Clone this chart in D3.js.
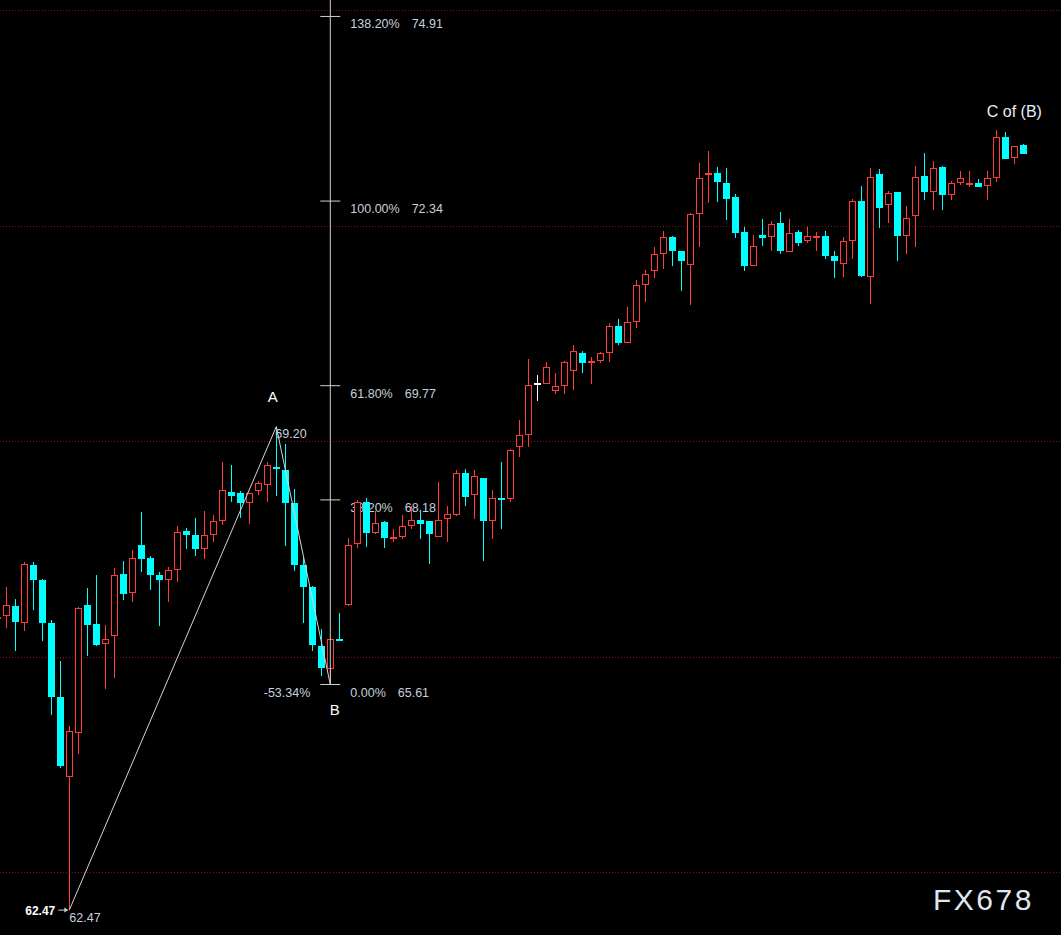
<!DOCTYPE html>
<html><head><meta charset="utf-8">
<script src="https://cdn.jsdelivr.net/npm/d3@7"></script>
<style>html,body{margin:0;padding:0;background:#000;overflow:hidden}</style>
</head><body><svg id="c" width="1061" height="935"></svg>
<script>
// ---- data ----
const candleIndex = d3.range(-1, 114);
const open  = [66.52,66.56,66.70,66.47,67.27,67.07,66.47,65.43,64.32,64.93,66.72,66.45,66.17,66.28,67.15,66.88,67.55,67.37,67.13,67.06,67.20,67.75,67.69,67.50,67.69,67.88,68.29,68.28,68.13,68.31,68.39,68.64,68.60,68.14,67.27,66.97,66.15,65.83,66.25,66.71,67.56,68.15,67.72,67.87,67.65,67.66,67.81,67.90,67.89,67.67,67.91,67.97,68.56,68.25,68.48,67.88,68.20,68.19,68.91,69.09,69.81,69.80,69.69,69.76,69.98,70.23,70.10,70.11,70.22,70.60,70.37,70.65,71.17,71.36,71.61,71.84,71.65,71.45,72.16,72.70,72.73,72.59,72.40,71.91,71.43,71.87,71.84,72.03,71.63,71.91,71.79,71.84,71.85,71.58,71.47,71.79,72.34,71.29,72.72,72.28,72.47,71.86,72.13,72.69,72.46,72.81,72.43,72.59,72.56,72.59,72.55,72.66,73.23,72.94,73.12];
const high  = [66.60,66.97,66.80,67.32,67.32,67.08,66.51,65.94,65.03,66.69,66.95,67.13,66.44,67.23,67.33,67.48,68.01,67.40,67.18,67.24,67.82,67.79,67.93,68.03,67.97,68.71,68.67,68.30,68.28,68.44,68.71,69.20,68.96,68.33,67.37,66.98,66.38,66.26,66.61,67.65,68.18,68.21,68.03,67.89,67.77,67.97,68.09,68.04,67.89,68.43,68.10,68.60,68.61,68.60,68.49,68.32,68.71,68.89,69.29,70.14,69.92,70.10,69.95,70.11,70.34,70.25,70.17,70.24,70.64,70.70,70.86,71.24,71.38,71.70,71.92,71.85,71.65,72.17,72.87,73.04,72.81,72.80,72.44,71.98,71.87,72.09,72.06,72.19,72.09,71.94,71.98,71.91,71.92,71.65,71.84,72.37,72.55,72.80,72.79,72.48,72.47,72.27,72.83,73.01,72.90,72.83,72.62,72.76,72.76,72.65,72.76,73.33,73.30,73.10,73.14];
const low   = [66.45,66.39,66.07,66.35,66.65,66.22,65.18,64.45,62.47,64.64,66.01,66.15,65.55,65.70,66.78,66.76,67.18,66.93,66.43,66.76,67.04,67.50,67.40,67.36,67.60,67.83,68.15,67.93,67.85,68.25,68.15,68.24,67.54,67.19,66.46,66.07,65.73,65.61,66.21,66.70,67.51,67.53,67.70,67.51,67.60,67.64,67.77,67.63,67.29,67.66,67.60,67.95,68.10,67.92,67.33,67.63,67.77,68.15,68.78,68.92,69.56,69.80,69.66,69.66,69.71,69.94,69.80,70.08,70.10,70.34,70.37,70.58,70.93,71.27,71.40,71.43,71.09,70.90,71.70,72.32,72.33,72.08,71.82,71.36,71.43,71.71,71.64,71.61,71.63,71.72,71.76,71.65,71.54,71.27,71.29,71.54,71.29,70.91,71.96,72.04,71.50,71.61,71.70,72.35,72.21,72.22,72.36,72.57,72.53,72.53,72.36,72.60,72.92,72.85,72.99];
const close = [66.55,66.71,66.48,67.29,67.06,66.47,65.43,64.48,64.96,66.67,66.44,66.16,66.25,67.13,66.87,67.37,67.36,67.14,67.07,67.20,67.74,67.69,67.50,67.69,67.89,68.32,68.23,68.14,68.27,68.41,68.66,68.61,68.14,67.28,66.97,66.16,65.84,66.25,66.21,67.55,68.15,67.72,67.86,67.65,67.67,67.81,67.90,67.85,67.70,67.90,67.98,68.56,68.22,68.51,67.88,68.20,68.19,68.87,69.08,69.78,69.81,70.03,69.76,70.10,70.25,70.09,70.12,70.22,70.60,70.37,70.65,71.17,71.33,71.60,71.84,71.64,71.50,72.16,72.66,72.73,72.60,72.37,71.90,71.44,71.72,71.83,72.02,71.64,71.89,71.76,71.85,71.86,71.57,71.50,71.79,72.34,71.30,72.68,72.25,72.45,71.86,72.11,72.68,72.46,72.80,72.43,72.59,72.66,72.59,72.54,72.66,73.23,72.93,73.10,73.00];

const gridPrices = [63, 66, 69, 72, 75];
const fibPct   = ["138.20%", "100.00%", "61.80%", "38.20%", "0.00%"];
const fibPrice = [74.91, 72.34, 69.77, 68.18, 65.61];
const waveIdx   = [7, 30, 36];
const wavePrice = [62.47, 69.20, 65.61];
const waveNames = ["", "A", "B"];
const extLabel = "-53.34%";
const peakLabel = "C of (B)";
const peakIdx = 110;

// ---- scales ----
const W = 1061, H = 935;
const svg = d3.select("#c");
const x = d3.scaleLinear().domain([-1, 113]).range([-2.7, 1023.3]);
const y = d3.scaleLinear().domain([63, 75]).range([872, 10]);

svg.append("rect").attr("width", W).attr("height", H).attr("fill", "#000");

// grid
svg.append("g").attr("shape-rendering", "crispEdges").selectAll("line").data(gridPrices).join("line")
  .attr("x1", 0).attr("x2", W)
  .attr("y1", d => Math.round(y(d)) + 0.5).attr("y2", d => Math.round(y(d)) + 0.5)
  .attr("stroke", "#8c1010").attr("stroke-width", 1).attr("stroke-dasharray", "1,2");

const labelFont = "'Liberation Sans', Arial, sans-serif";
const labelCol = "#c6d0de";
const fx = x(36);

// fib labels (below candles)
const fibG = svg.append("g");
fibPct.forEach((p, i) => {
  const t = fibG.append("text").attr("x", fx + 20).attr("y", y(fibPrice[i]) + 12)
    .attr("font-family", labelFont).attr("font-size", 12.5).attr("fill", labelCol);
  t.append("tspan").text(p);
  t.append("tspan").attr("dx", 12).text(fibPrice[i].toFixed(2));
});
fibG.append("text").attr("x", fx - 20).attr("y", y(fibPrice[4]) + 12)
  .attr("text-anchor", "end").attr("font-family", labelFont).attr("font-size", 12.5)
  .attr("fill", labelCol).text(extLabel);

// candles
const RED = "#ff3b3b", CYAN = "#00ffff";
const data = candleIndex.map((d, i) => ({i: d, o: open[i], h: high[i], l: low[i], c: close[i]}));
const colorOf = d => d.c > d.o ? RED : (d.c < d.o ? CYAN : "#ffffff");
const cg = svg.append("g").attr("shape-rendering", "crispEdges");
data.forEach(d => {
  const cx = Math.floor(x(d.i));
  const col = colorOf(d);
  const yH = Math.round(y(d.h)), yL = Math.round(y(d.l));
  const y0 = Math.round(y(Math.max(d.o, d.c))), y1 = Math.round(y(Math.min(d.o, d.c)));
  cg.append("line").attr("x1", cx + 0.5).attr("x2", cx + 0.5)
    .attr("y1", yH).attr("y2", Math.max(yL, yH + 1)).attr("stroke", col).attr("stroke-width", 1);
  if (y1 - y0 < 2) {
    cg.append("rect").attr("x", cx - 3).attr("y", y0).attr("width", 7).attr("height", 2).attr("fill", col);
  } else if (d.c > d.o) {
    cg.append("rect").attr("x", cx - 2.5).attr("y", y0 + 0.5).attr("width", 6).attr("height", y1 - y0 - 1)
      .attr("fill", "#000").attr("stroke", col).attr("stroke-width", 1.3);
  } else {
    cg.append("rect").attr("x", cx - 3).attr("y", y0).attr("width", 7).attr("height", y1 - y0).attr("fill", col);
  }
});

// fib tool: vertical line + ticks
const fg = svg.append("g");
fg.append("line").attr("x1", fx).attr("x2", fx).attr("y1", 0).attr("y2", y(fibPrice[4]))
  .attr("stroke", "#cfcfcf").attr("stroke-width", 1);
fg.selectAll("line.t").data(fibPrice).join("line").attr("class", "t")
  .attr("x1", fx - 10).attr("x2", fx + 10)
  .attr("y1", d => y(d)).attr("y2", d => y(d))
  .attr("stroke", "#cfcfcf").attr("stroke-width", 1);

// wave line
const wavePts = waveIdx.map((d, i) => [x(d), y(wavePrice[i])]);
svg.append("path").attr("d", d3.line()(wavePts)).attr("fill", "none")
  .attr("stroke", "#d4d4d4").attr("stroke-width", 1);

// wave labels
svg.append("text").attr("x", wavePts[1][0] - 3.5).attr("y", wavePts[1][1] - 25).attr("text-anchor", "middle")
  .attr("font-family", labelFont).attr("font-size", 15).attr("fill", "#ffffff").text(waveNames[1]);
svg.append("text").attr("x", wavePts[2][0] + 4.5).attr("y", wavePts[2][1] + 30).attr("text-anchor", "middle")
  .attr("font-family", labelFont).attr("font-size", 15).attr("fill", "#ffffff").text(waveNames[2]);
svg.append("text").attr("x", wavePts[1][0] - 1).attr("y", wavePts[1][1] + 11)
  .attr("font-family", labelFont).attr("font-size", 12.5).attr("fill", labelCol).text(wavePrice[1].toFixed(2));

// low labels
const lowX = wavePts[0][0], lowY = wavePts[0][1];
svg.append("text").attr("x", lowX - 14).attr("y", lowY + 5).attr("text-anchor", "end")
  .attr("font-family", labelFont).attr("font-size", 12).attr("font-weight", "bold").attr("fill", "#ffffff")
  .text(wavePrice[0].toFixed(2));
svg.append("line").attr("x1", lowX - 11).attr("x2", lowX - 2).attr("y1", lowY).attr("y2", lowY)
  .attr("stroke", "#cfcfcf").attr("stroke-width", 1);
svg.append("path").attr("d", `M${lowX-1},${lowY} l-4,-2.5 l0,5 z`).attr("fill", "#cfcfcf");
svg.append("text").attr("x", lowX).attr("y", lowY + 12)
  .attr("font-family", labelFont).attr("font-size", 12.5).attr("fill", labelCol).text(wavePrice[0].toFixed(2));

// peak label
svg.append("text").attr("x", x(peakIdx) - 9.5).attr("y", y(high[peakIdx + 1]) - 13)
  .attr("font-family", labelFont).attr("font-size", 16).attr("fill", "#e8eef8").text(peakLabel);

// watermark
svg.append("text").attr("x", 933).attr("y", 910).attr("font-family", labelFont)
  .attr("font-size", 30).attr("letter-spacing", 2.5).attr("fill", "#dfe6f0").text("FX678");
</script></body></html>
